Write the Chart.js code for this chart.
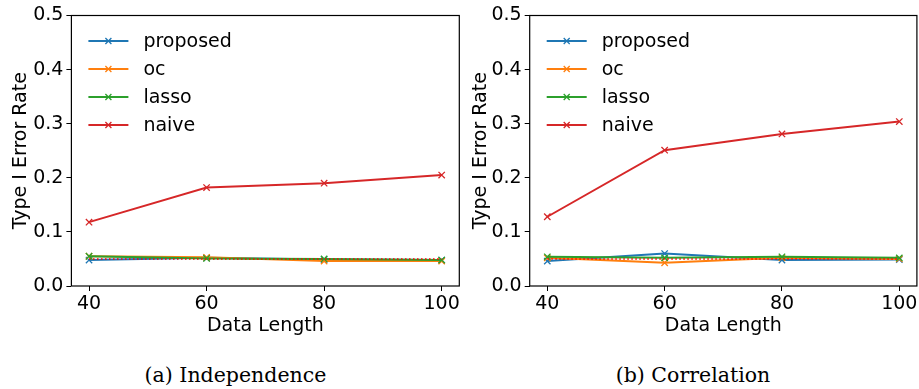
<!DOCTYPE html>
<html>
<head>
<meta charset="utf-8">
<script src="https://cdn.jsdelivr.net/npm/chart.js@4.4.0/dist/chart.umd.min.js"></script>
<style>
  html, body { margin: 0; padding: 0; background: #fff; }
  #wrap { position: relative; width: 919px; height: 389px; overflow: hidden; }
  canvas { position: absolute; top: 0; }
  .cap { position: absolute; width: 400px; text-align: center; font-family: "DejaVu Serif", serif; font-size: 20.5px; line-height: 20px; color: #000; }
</style>
</head>
<body>
<div id="wrap">
  <canvas id="c1" width="460" height="340" style="left:0px"></canvas>
  <canvas id="c2" width="459" height="340" style="left:460px"></canvas>
  <div class="cap" style="left:35.5px; top:365px;">(a) Independence</div>
  <div class="cap" style="left:493px; top:365px;">(b) Correlation</div>
</div>
<script>
// ---- data ----
const dataLengths = [40, 60, 80, 100];
const yTickValues = [0.0, 0.1, 0.2, 0.3, 0.4, 0.5];
const seriesNames = ["proposed", "oc", "lasso", "naive"];
const nominalAlpha = [0.05, 0.05, 0.05, 0.05];

const indepProposed = [0.048, 0.052, 0.049, 0.048];
const indepOc       = [0.055, 0.053, 0.046, 0.046];
const indepLasso    = [0.055, 0.051, 0.050, 0.048];
const indepNaive    = [0.118, 0.182, 0.190, 0.205];

const corrProposed = [0.046, 0.060, 0.048, 0.049];
const corrOc       = [0.052, 0.043, 0.052, 0.050];
const corrLasso    = [0.054, 0.052, 0.054, 0.052];
const corrNaive    = [0.128, 0.251, 0.281, 0.304];

const colors = ["#1f77b4", "#ff7f0e", "#2ca02c", "#d62728"];
const FONT = "DejaVu Sans";

function pts(vals) { return vals.map((v, i) => ({ x: dataLengths[i], y: v })); }

const frameAndLegend = {
  id: 'frameAndLegend',
  afterDatasetsDraw(chart) {
    const { ctx, chartArea: a } = chart;
    ctx.save();
    ctx.strokeStyle = '#000';
    ctx.lineWidth = 1.2;
    ctx.strokeRect(a.left, a.top, a.right - a.left, a.bottom - a.top);
    const items = chart.data.datasets.filter(d => d.inLegend);
    items.forEach((d, i) => {
      const y = a.top + 25.5 + i * 28;
      const x0 = a.left + 17, x1 = a.left + 57, xm = (x0 + x1) / 2;
      ctx.strokeStyle = d.borderColor;
      ctx.lineWidth = 2;
      ctx.beginPath(); ctx.moveTo(x0, y); ctx.lineTo(x1, y); ctx.stroke();
      ctx.lineWidth = 1.3;
      const r = 3;
      ctx.beginPath();
      ctx.moveTo(xm - r, y - r); ctx.lineTo(xm + r, y + r);
      ctx.moveTo(xm - r, y + r); ctx.lineTo(xm + r, y - r);
      ctx.stroke();
      ctx.fillStyle = '#000';
      ctx.font = '19px "' + FONT + '"';
      ctx.textAlign = 'left';
      ctx.textBaseline = 'middle';
      ctx.fillText(d.label, a.left + 72, y + 1);
    });
    ctx.restore();
  }
};

function makeChart(id, seriesVals, yAxisWidth, padRight) {
  const datasets = seriesVals.map((vals, i) => ({
    label: seriesNames[i],
    data: pts(vals),
    borderColor: colors[i],
    backgroundColor: colors[i],
    borderWidth: 2,
    pointStyle: 'crossRot',
    pointRadius: 4.5,
    pointBorderWidth: 1.3,
    pointBorderColor: colors[i],
    fill: false,
    tension: 0,
    inLegend: true,
    order: 4 - i + 1
  }));
  datasets.push({
    label: 'alpha',
    data: pts(nominalAlpha),
    borderColor: '#ff0000',
    borderWidth: 1.5,
    borderDash: [1.5, 2.5],
    pointRadius: 0,
    fill: false,
    inLegend: false,
    order: 0
  });
  return new Chart(document.getElementById(id), {
    type: 'line',
    data: { datasets },
    plugins: [frameAndLegend],
    options: {
      responsive: false,
      animation: false,
      devicePixelRatio: 1,
      layout: { autoPadding: false, padding: { top: 15.5, right: padRight, left: 0, bottom: 0 } },
      plugins: { legend: { display: false }, tooltip: { enabled: false } },
      scales: {
        x: {
          type: 'linear',
          min: 37, max: 103,
          afterBuildTicks: s => { s.ticks = dataLengths.map(v => ({ value: v })); },
          afterFit: s => { s.height = 54; s.paddingLeft = 0; s.paddingRight = 0; },
          ticks: { color: '#000', font: { family: FONT, size: 19 }, padding: 2, maxRotation: 0, autoSkip: false },
          grid: { display: true, drawOnChartArea: false, drawTicks: true, tickLength: 5, color: '#000', lineWidth: 1 },
          border: { display: false },
          title: { display: true, text: 'Data Length', color: '#000', font: { family: FONT, size: 19 }, padding: { top: 0, bottom: 3 } }
        },
        y: {
          min: 0, max: 0.5,
          afterBuildTicks: s => { s.ticks = yTickValues.map(v => ({ value: v })); },
          afterFit: s => { s.width = yAxisWidth; s.paddingTop = 0; s.paddingBottom = 0; },
          ticks: { color: '#000', font: { family: FONT, size: 19 }, padding: 3, callback: v => Number(v).toFixed(1) },
          grid: { display: true, drawOnChartArea: false, drawTicks: true, tickLength: 5, color: '#000', lineWidth: 1 },
          border: { display: false },
          title: { display: true, text: 'Type I Error Rate', color: '#000', font: { family: FONT, size: 19 }, padding: { top: 10, bottom: 0 } }
        }
      }
    }
  });
}

makeChart('c1', [indepProposed, indepOc, indepLasso, indepNaive], 71.4, 0.7);
makeChart('c2', [corrProposed, corrOc, corrLasso, corrNaive], 69.7, 2.1);
</script>
</body>
</html>
